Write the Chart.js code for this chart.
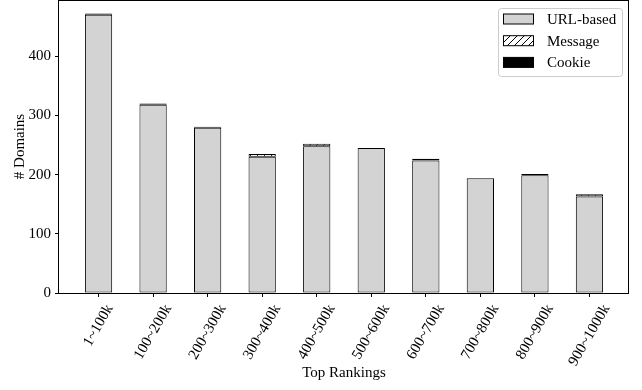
<!DOCTYPE html>
<html>
<head>
<meta charset="utf-8">
<script src="https://cdn.jsdelivr.net/npm/chart.js@4.4.0/dist/chart.umd.min.js"></script>
<style>
  html, body { margin: 0; padding: 0; background: #fff; }
  canvas { display: block; }
</style>
</head>
<body>
<canvas id="c" width="642" height="390"></canvas>
<script>
// Domains per ranking bucket, split by mechanism
const categories = ['1~100k', '100~200k', '200~300k', '300~400k', '400~500k',
                    '500~600k', '600~700k', '700~800k', '800~900k', '900~1000k'];
const urlBased = [470, 318, 279, 230, 248, 245, 224, 194, 199, 163];
const message  = [2,   0,   0,   5,   4,   0,   0,   0,   2,   4];
const cookie   = [0,   2,   2,   0,   0,   0,   3,   0,   0,   0];
const yTicks = [0, 100, 200, 300, 400];
const yMax = 495;

const FONT = "'Liberation Serif', 'Times New Roman', serif";
const canvas = document.getElementById('c');
const mainCtx = canvas.getContext('2d');

// diagonal "///" hatch on white
function makeHatch() {
  const s = 7;
  const c = document.createElement('canvas');
  c.width = s; c.height = s;
  const g = c.getContext('2d');
  g.fillStyle = '#fff';
  g.fillRect(0, 0, s, s);
  g.strokeStyle = '#000';
  g.lineWidth = 1;
  g.beginPath();
  g.moveTo(0, s); g.lineTo(s, 0);
  g.moveTo(-1, 1); g.lineTo(1, -1);
  g.moveTo(s - 1, s + 1); g.lineTo(s + 1, s - 1);
  g.stroke();
  return mainCtx.createPattern(c, 'repeat');
}
const hatch = makeHatch();

const toPoints = arr => arr.map((v, i) => ({ x: i, y: v }));

// box around the plot area
const frame = {
  id: 'frame',
  afterDatasetsDraw(chart) {
    const { ctx, chartArea: a } = chart;
    ctx.save();
    ctx.strokeStyle = '#000';
    ctx.lineWidth = 1;
    ctx.strokeRect(a.left - 0.5, a.top + 0.5, a.right - a.left, a.bottom - a.top);
    ctx.restore();
  }
};

// rotated category labels, bounding box centred under each tick
const xLabels = {
  id: 'xLabels',
  afterDraw(chart) {
    const sc = chart.scales.x;
    const ctx = chart.ctx;
    const ang = 60 * Math.PI / 180;
    const fs = 15;
    const top = chart.chartArea.bottom + 4 + 5;
    ctx.save();
    ctx.font = fs + 'px ' + FONT;
    ctx.fillStyle = '#000';
    ctx.textAlign = 'center';
    ctx.textBaseline = 'middle';
    categories.forEach((t, i) => {
      const x = sc.getPixelForValue(i);
      const w = ctx.measureText(t).width;
      const H = w * Math.sin(ang) + fs * Math.cos(ang);
      ctx.save();
      ctx.translate(x, top + H / 2);
      ctx.rotate(-ang);
      ctx.fillText(t, 0, 0);
      ctx.restore();
    });
    ctx.restore();
  }
};

// legend in the upper right corner of the plot
const legendBox = {
  id: 'legendBox',
  afterDraw(chart) {
    const ctx = chart.ctx;
    const a = chart.chartArea;
    const w = 124, h = 68;
    const x0 = a.right - 131 + 0.5, y0 = a.top + 8 + 0.5;
    const r = 3;
    ctx.save();
    ctx.beginPath();
    ctx.moveTo(x0 + r, y0);
    ctx.lineTo(x0 + w - r, y0);
    ctx.quadraticCurveTo(x0 + w, y0, x0 + w, y0 + r);
    ctx.lineTo(x0 + w, y0 + h - r);
    ctx.quadraticCurveTo(x0 + w, y0 + h, x0 + w - r, y0 + h);
    ctx.lineTo(x0 + r, y0 + h);
    ctx.quadraticCurveTo(x0, y0 + h, x0, y0 + h - r);
    ctx.lineTo(x0, y0 + r);
    ctx.quadraticCurveTo(x0, y0, x0 + r, y0);
    ctx.closePath();
    ctx.fillStyle = 'rgba(255,255,255,0.85)';
    ctx.fill();
    ctx.strokeStyle = '#cccccc';
    ctx.lineWidth = 1;
    ctx.stroke();

    ctx.font = '15px ' + FONT;
    ctx.textAlign = 'left';
    ctx.textBaseline = 'middle';
    chart.data.datasets.forEach((ds, i) => {
      const cy = y0 + 10.5 + i * 21.7;
      const px = x0 + 5, pw = 30, ph = 10;
      ctx.fillStyle = ds.backgroundColor;
      ctx.fillRect(px, cy - ph / 2, pw, ph);
      ctx.strokeStyle = '#000';
      ctx.strokeRect(px, cy - ph / 2, pw, ph);
      ctx.fillStyle = '#000';
      ctx.fillText(ds.label, x0 + 48.5, cy + 1);
    });
    ctx.restore();
  }
};

const barStyle = { borderColor: '#000', borderWidth: 1, borderSkipped: false,
                   categoryPercentage: 0.5, barPercentage: 1.0 };

new Chart(canvas, {
  type: 'bar',
  data: {
    datasets: [
      Object.assign({ label: 'URL-based', data: toPoints(urlBased), backgroundColor: '#d3d3d3' }, barStyle),
      Object.assign({ label: 'Message',   data: toPoints(message),  backgroundColor: hatch }, barStyle),
      Object.assign({ label: 'Cookie',    data: toPoints(cookie),   backgroundColor: '#000' }, barStyle)
    ]
  },
  options: {
    responsive: false,
    animation: false,
    layout: { padding: { left: 0, right: 13, top: 0, bottom: 0 } },
    plugins: { legend: { display: false }, tooltip: { enabled: false } },
    scales: {
      x: {
        type: 'linear',
        stacked: true,
        min: -0.725,
        max: 9.725,
        offset: false,
        afterBuildTicks: s => { s.ticks = categories.map((_, i) => ({ value: i })); },
        afterFit: s => { s.height = 97; s.paddingLeft = 0; s.paddingRight = 0; },
        grid: { drawOnChartArea: false, drawTicks: true, tickLength: 4, color: '#000', offset: false },
        border: { display: false },
        ticks: { display: false },
        title: { display: true, text: 'Top Rankings', color: '#000',
                 font: { family: FONT, size: 15 }, padding: { top: 0, bottom: 8 } }
      },
      y: {
        stacked: true,
        min: 0,
        max: yMax,
        afterBuildTicks: s => { s.ticks = yTicks.map(v => ({ value: v })); },
        afterFit: s => { s.width = 59; s.paddingTop = 0; s.paddingBottom = 0; },
        grid: { drawOnChartArea: false, drawTicks: true, tickLength: 4, color: '#000' },
        border: { display: false },
        ticks: { color: '#000', font: { family: FONT, size: 15 }, padding: 4 },
        title: { display: true, text: '# Domains', color: '#000',
                 font: { family: FONT, size: 15 }, padding: { top: 11, bottom: 0 } }
      }
    }
  },
  plugins: [frame, xLabels, legendBox]
});
</script>
</body>
</html>
